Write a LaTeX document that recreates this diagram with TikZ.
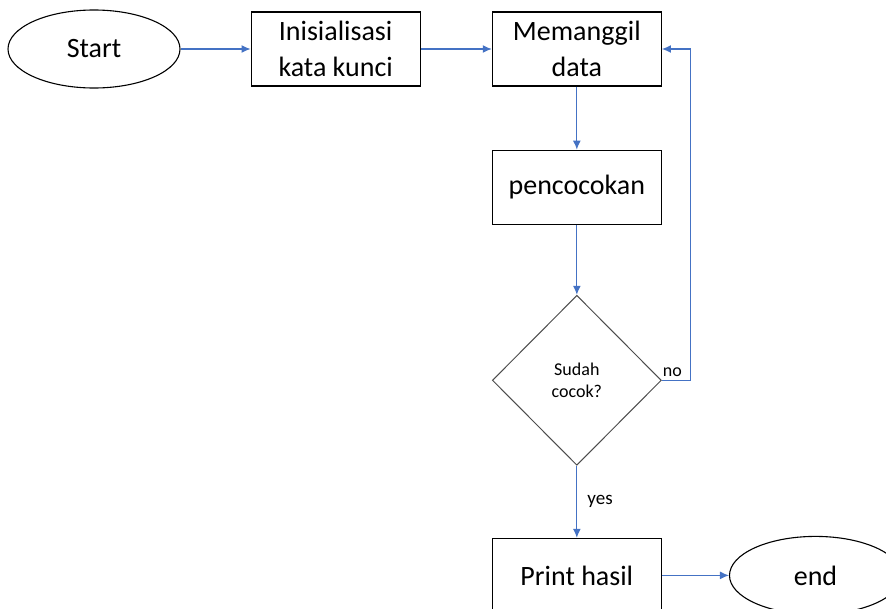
\documentclass[tikz,border=0pt]{standalone}
\usepackage{fontspec}
\setmainfont{Carlito}
\usetikzlibrary{shapes.geometric, positioning, arrows.meta}
\definecolor{flowblue}{RGB}{68,114,196}

\begin{document}
\begin{tikzpicture}[x=1pt, y=1pt, auto,
	proc/.style={draw, line width=1.2pt, minimum width=169pt, minimum height=74pt, inner sep=0pt, align=center, font=\fontsize{28}{36}\selectfont},
	term/.style={draw, ellipse, line width=1.1pt, minimum width=172pt, minimum height=78pt, inner sep=0pt, font=\fontsize{28}{36}\selectfont},
	decide/.style={draw=black!70, diamond, line width=1pt, minimum width=169pt, minimum height=170pt, inner sep=0pt, align=center, font=\fontsize{18}{22}\selectfont},
	flow/.style={draw=flowblue, line width=1.2pt, -{Latex[length=9pt, width=8pt]}},
	lbl/.style={font=\fontsize{19}{22}\selectfont}]
	\useasboundingbox (0,0) rectangle (886,-608);
	\node[term] (start) at (94,-49) {Start};
	\node[proc] (init) [right=70pt of start] {Inisialisasi\\kata kunci};
	\node[proc] (load) [right=71pt of init] {Memanggil\\data};
	\node[proc] (match) [below=63pt of load] {pencocokan};
	\node[decide] (check) [below=70pt of match] {Sudah\\cocok?};
	\node[proc] (print) [below=72pt of check] {Print hasil};
	\node[term] (stop) [right=67pt of print] {end};
	\path
		(start) edge[flow] (init)
		(init) edge[flow] (load)
		(load) edge[flow] (match)
		(match) edge[flow] (check)
		(check) edge[flow] node[lbl, right, inner sep=10pt] {yes} (print)
		(print) edge[flow] (stop)
	;
	\draw[flow] (check.east) -- node[lbl, above, xshift=-4pt, font=\fontsize{18}{22}\selectfont] {no} ++(29,0) |- (load.east);
\end{tikzpicture}
\end{document}
